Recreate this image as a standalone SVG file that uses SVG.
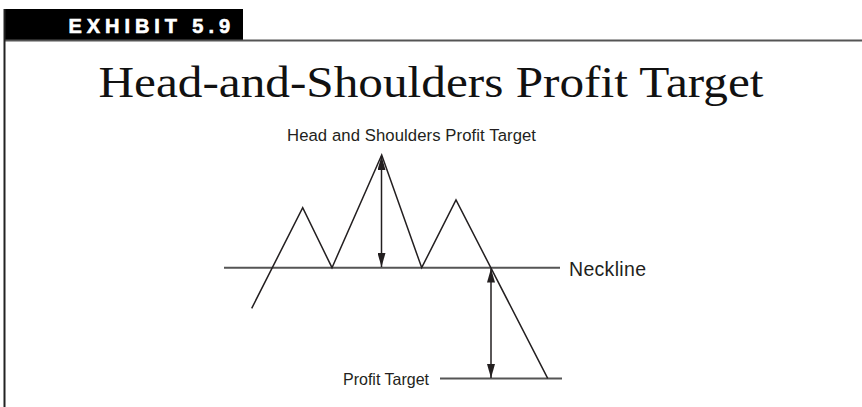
<svg xmlns="http://www.w3.org/2000/svg" width="862" height="407" viewBox="0 0 862 407">
<style>
.ln{stroke:#231f20;stroke-width:1.5;fill:none}
.gl{stroke:#555;stroke-width:2;fill:none}
.lbl{font-family:"Liberation Sans",Arial,sans-serif;fill:#231f20}
</style>
<defs>
<marker id="ah" viewBox="0 0 14 8" refX="14" refY="4" markerWidth="14" markerHeight="8" markerUnits="userSpaceOnUse" orient="auto">
<path d="M0,0 L14,4 L0,8 Z" fill="#231f20"/>
</marker>
</defs>
<rect width="862" height="407" fill="#fff"/>
<g id="header">
<rect x="4" y="9" width="239" height="32" fill="#000"/>
<line x1="4" y1="40.5" x2="862" y2="40.5" stroke="#555" stroke-width="2"/>
<line x1="4.5" y1="9" x2="4.5" y2="407" stroke="#222" stroke-width="2"/>
<text x="68.5" y="32.5" font-family="Liberation Sans,Arial,sans-serif" font-weight="bold" font-size="20" fill="#fff" stroke="#fff" stroke-width="0.6" textLength="161.5" lengthAdjust="spacing">EXHIBIT 5.9</text>
</g>
<text id="title" x="431" y="97" text-anchor="middle" font-family="Liberation Serif,'Times New Roman',serif" font-size="45" fill="#111" textLength="665" lengthAdjust="spacingAndGlyphs">Head-and-Shoulders Profit Target</text>
<g id="neckline">
<line class="gl" x1="224" y1="267.7" x2="560" y2="267.7"/>
<text class="lbl" x="569" y="275.5" font-size="19.5" textLength="77" lengthAdjust="spacing">Neckline</text>
</g>
<g id="profit-target">
<line class="gl" x1="440" y1="378.5" x2="562" y2="378.5"/>
<text class="lbl" x="343" y="384.5" font-size="16.5" textLength="86" lengthAdjust="spacingAndGlyphs">Profit Target</text>
</g>
<g id="price">
<polyline class="ln" points="251.7,308.3 302.7,207.7 332,267.7 381.7,155 421.7,267.7 456,200 547.7,378.3"/>
</g>
<g id="top-label">
<text class="lbl" x="287" y="140.5" font-size="16.7" textLength="249" lengthAdjust="spacing">Head and Shoulders Profit Target</text>
</g>
<g id="connectors">
<line class="ln" x1="381.5" y1="211" x2="381.5" y2="156" marker-end="url(#ah)"/>
<line class="ln" x1="381.5" y1="211" x2="381.5" y2="267" marker-end="url(#ah)"/>
<line class="ln" x1="491" y1="323" x2="491" y2="268.5" marker-end="url(#ah)"/>
<line class="ln" x1="491" y1="323" x2="491" y2="378" marker-end="url(#ah)"/>
</g>
</svg>
